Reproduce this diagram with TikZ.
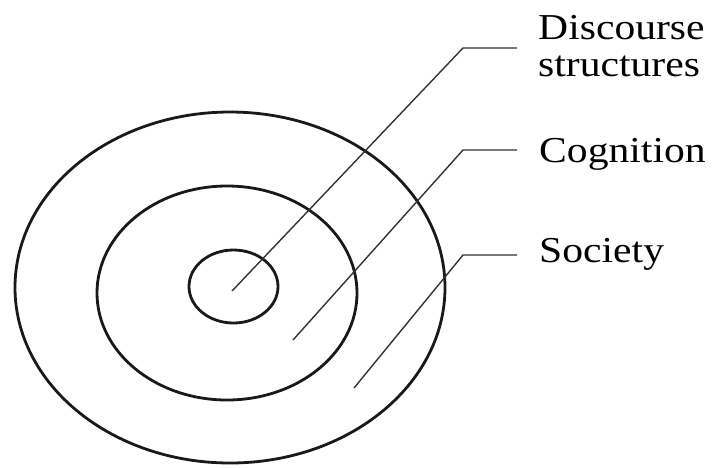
\documentclass[tikz,border=0pt]{standalone}
\usepackage{fontspec}
\setmainfont{Liberation Serif}
\usetikzlibrary{shapes.geometric}
\begin{document}
\begin{tikzpicture}[x=1pt,y=-1pt,
  ring/.style={draw=black!90, line width=2.8pt},
  leader/.style={draw=black!80, line width=1.4pt},
  lbl/.style={font=\fontsize{36.5}{37}\selectfont, anchor=base west, inner sep=0pt, xscale=1.14, align=left}]
\useasboundingbox (0,0) rectangle (717,467);
\draw[ring] (230,287.5) ellipse [x radius=215, y radius=175.5];
\draw[ring] (227,293) ellipse [x radius=130, y radius=107];
\draw[ring] (233.5,286.5) ellipse [x radius=44.5, y radius=36.5];
\coordinate (p1) at (232,291);
\coordinate (k1) at (463,48);
\coordinate (e1) at (517,48);
\coordinate (p2) at (293,340);
\coordinate (k2) at (463,150);
\coordinate (e2) at (517,150);
\coordinate (p3) at (354,388);
\coordinate (k3) at (463,255);
\coordinate (e3) at (517,255);
\draw[leader] (p1) -- (k1) -- (e1);
\draw[leader] (p2) -- (k2) -- (e2);
\draw[leader] (p3) -- (k3) -- (e3);
\node[lbl] (d) at (538,39) {Discourse};
\node[lbl] (s) at (538,76) {structures};
\node[lbl] (c) at (539,162) {Cognition};
\node[lbl] (so) at (539,262) {Society};
\end{tikzpicture}
\end{document}
